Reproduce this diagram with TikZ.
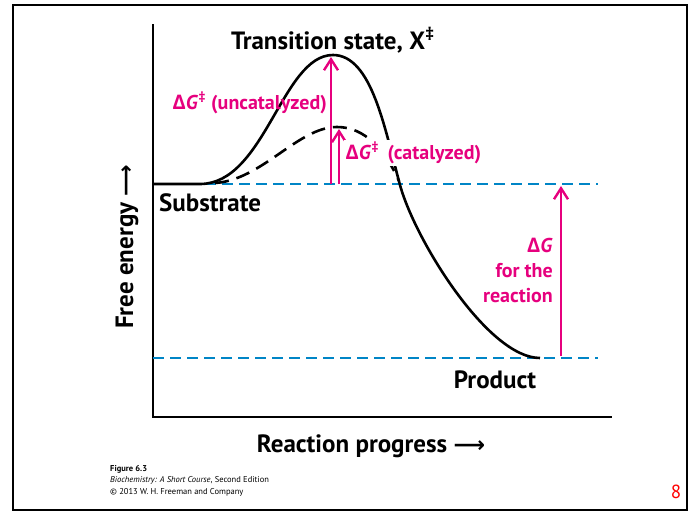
\documentclass[tikz,border=0pt]{standalone}
\usepackage{fontspec}
\setmainfont{PT Sans}
\newfontfamily\symfont{Open Sans}
\newfontfamily\arrowfont{DejaVu Sans}
\usetikzlibrary{arrows.meta, positioning}

\definecolor{hotpink}{RGB}{230,0,126}
\definecolor{levelblue}{RGB}{0,133,198}

\newcommand{\dG}{{\symfont\bfseries Δ}\textit{G}}
\newcommand{\dsup}{\textsuperscript{\symfont\bfseries ‡}}
\newcommand{\longarr}{{\arrowfont\bfseries\fontsize{22}{22}\selectfont ⟶}}

\tikzset{
  lbl/.style={font=\bfseries\fontsize{25}{28}\selectfont, inner sep=0pt},
  pinklbl/.style={font=\bfseries\fontsize{20}{25}\selectfont, text=hotpink, inner sep=0pt},
  level/.style={levelblue, line width=2.5pt, dash pattern=on 11pt off 6pt},
  curve/.style={line width=2.6pt},
  pinkarrow/.style={hotpink, line width=2.4pt, -{Straight Barb[length=11pt,width=14pt,line width=2.4pt]}},
}

\begin{document}
\begin{tikzpicture}[x=1pt, y=-1pt]
        \useasboundingbox (0,0) rectangle (694,512);
        % Frame
        \draw[line width=2.5pt] (13,5) rectangle (687,510);

        % Axes
        \coordinate (ytop) at (153,24);
        \coordinate (origin) at (153,417);
        \coordinate (xend) at (612,417);
        \draw[line width=2.2pt] (ytop) -- (origin) -- (xend);

        % Energy levels
        \coordinate (subL) at (153,184);
        \coordinate (subR) at (598,184);
        \coordinate (prodL) at (153,358);
        \coordinate (prodR) at (598,358);
        \draw[level] (205,184) -- (subR);
        \draw[level] (prodL) -- (prodR);

        % Uncatalyzed path
        \coordinate (peak) at (333,55);
        \coordinate (prodEnd) at (540,358);
        \draw[curve] (subL) -- (200,184) .. controls (265,184) and (282,55) .. (peak)
            .. controls (372,55) and (385,130) .. (400,185)
            .. controls (415,240) and (488,358) .. (prodEnd);

        % Catalyzed path
        \coordinate (catpeak) at (337,127);
        \draw[curve, dash pattern=on 14pt off 8pt] (215,183) .. controls (262,180) and (298,127) .. (catpeak)
            .. controls (365,127) and (385,150) .. (399,181);

        % Activation energies
        \coordinate (uncatBase) at (331,184);
        \coordinate (uncatTop) at (331,57);
        \coordinate (catBase) at (339,184);
        \coordinate (catTop) at (339,129);
        \draw[pinkarrow] (uncatBase) -- (uncatTop);
        \draw[pinkarrow] (catBase) -- (catTop);

        % Free energy change
        \coordinate (dgTop) at (561,186);
        \coordinate (dgBot) at (561,356);
        \draw[pinkarrow, {Straight Barb[length=11pt,width=14pt,line width=2.4pt]}-] (dgTop) -- (dgBot);

        % Labels
        \node[lbl] (ts) at (333,40) {Transition state, X\dsup};
        \node[lbl, anchor=west] (substrate) at (159,203) {Substrate};
        \node[lbl] (product) at (495,380) {Product};
        \node[pinklbl, anchor=east] (uncat) at (327,103) {\dG\dsup\ (uncatalyzed)};
        \node[pinklbl, anchor=west, fill=white, inner sep=1.5pt] (cat) at (344,153) {\dG\dsup\ \,(catalyzed)};
        \node[pinklbl, anchor=east, align=right] (dglbl) at (553,270) {\dG\\for the\\reaction};

        % Axis titles
        \node[lbl, rotate=90, anchor=west] (yt) at (127,329) {Free energy \longarr};
        \node[lbl] (xt) at (371,446) {Reaction progress \longarr};

        % Caption
        \node[anchor=north west, align=left, inner sep=0pt, font=\fontsize{8.5}{11.5}\selectfont] (caption) at (110,465)
            {\textbf{Figure 6.3}\\\textit{Biochemistry: A Short Course}, Second Edition\\© 2013 W. H. Freeman and Company};
        \node[text=red, font=\fontsize{19}{22}\selectfont] (pagenum) at (676,492) {8};
    \end{tikzpicture}
\end{document}
